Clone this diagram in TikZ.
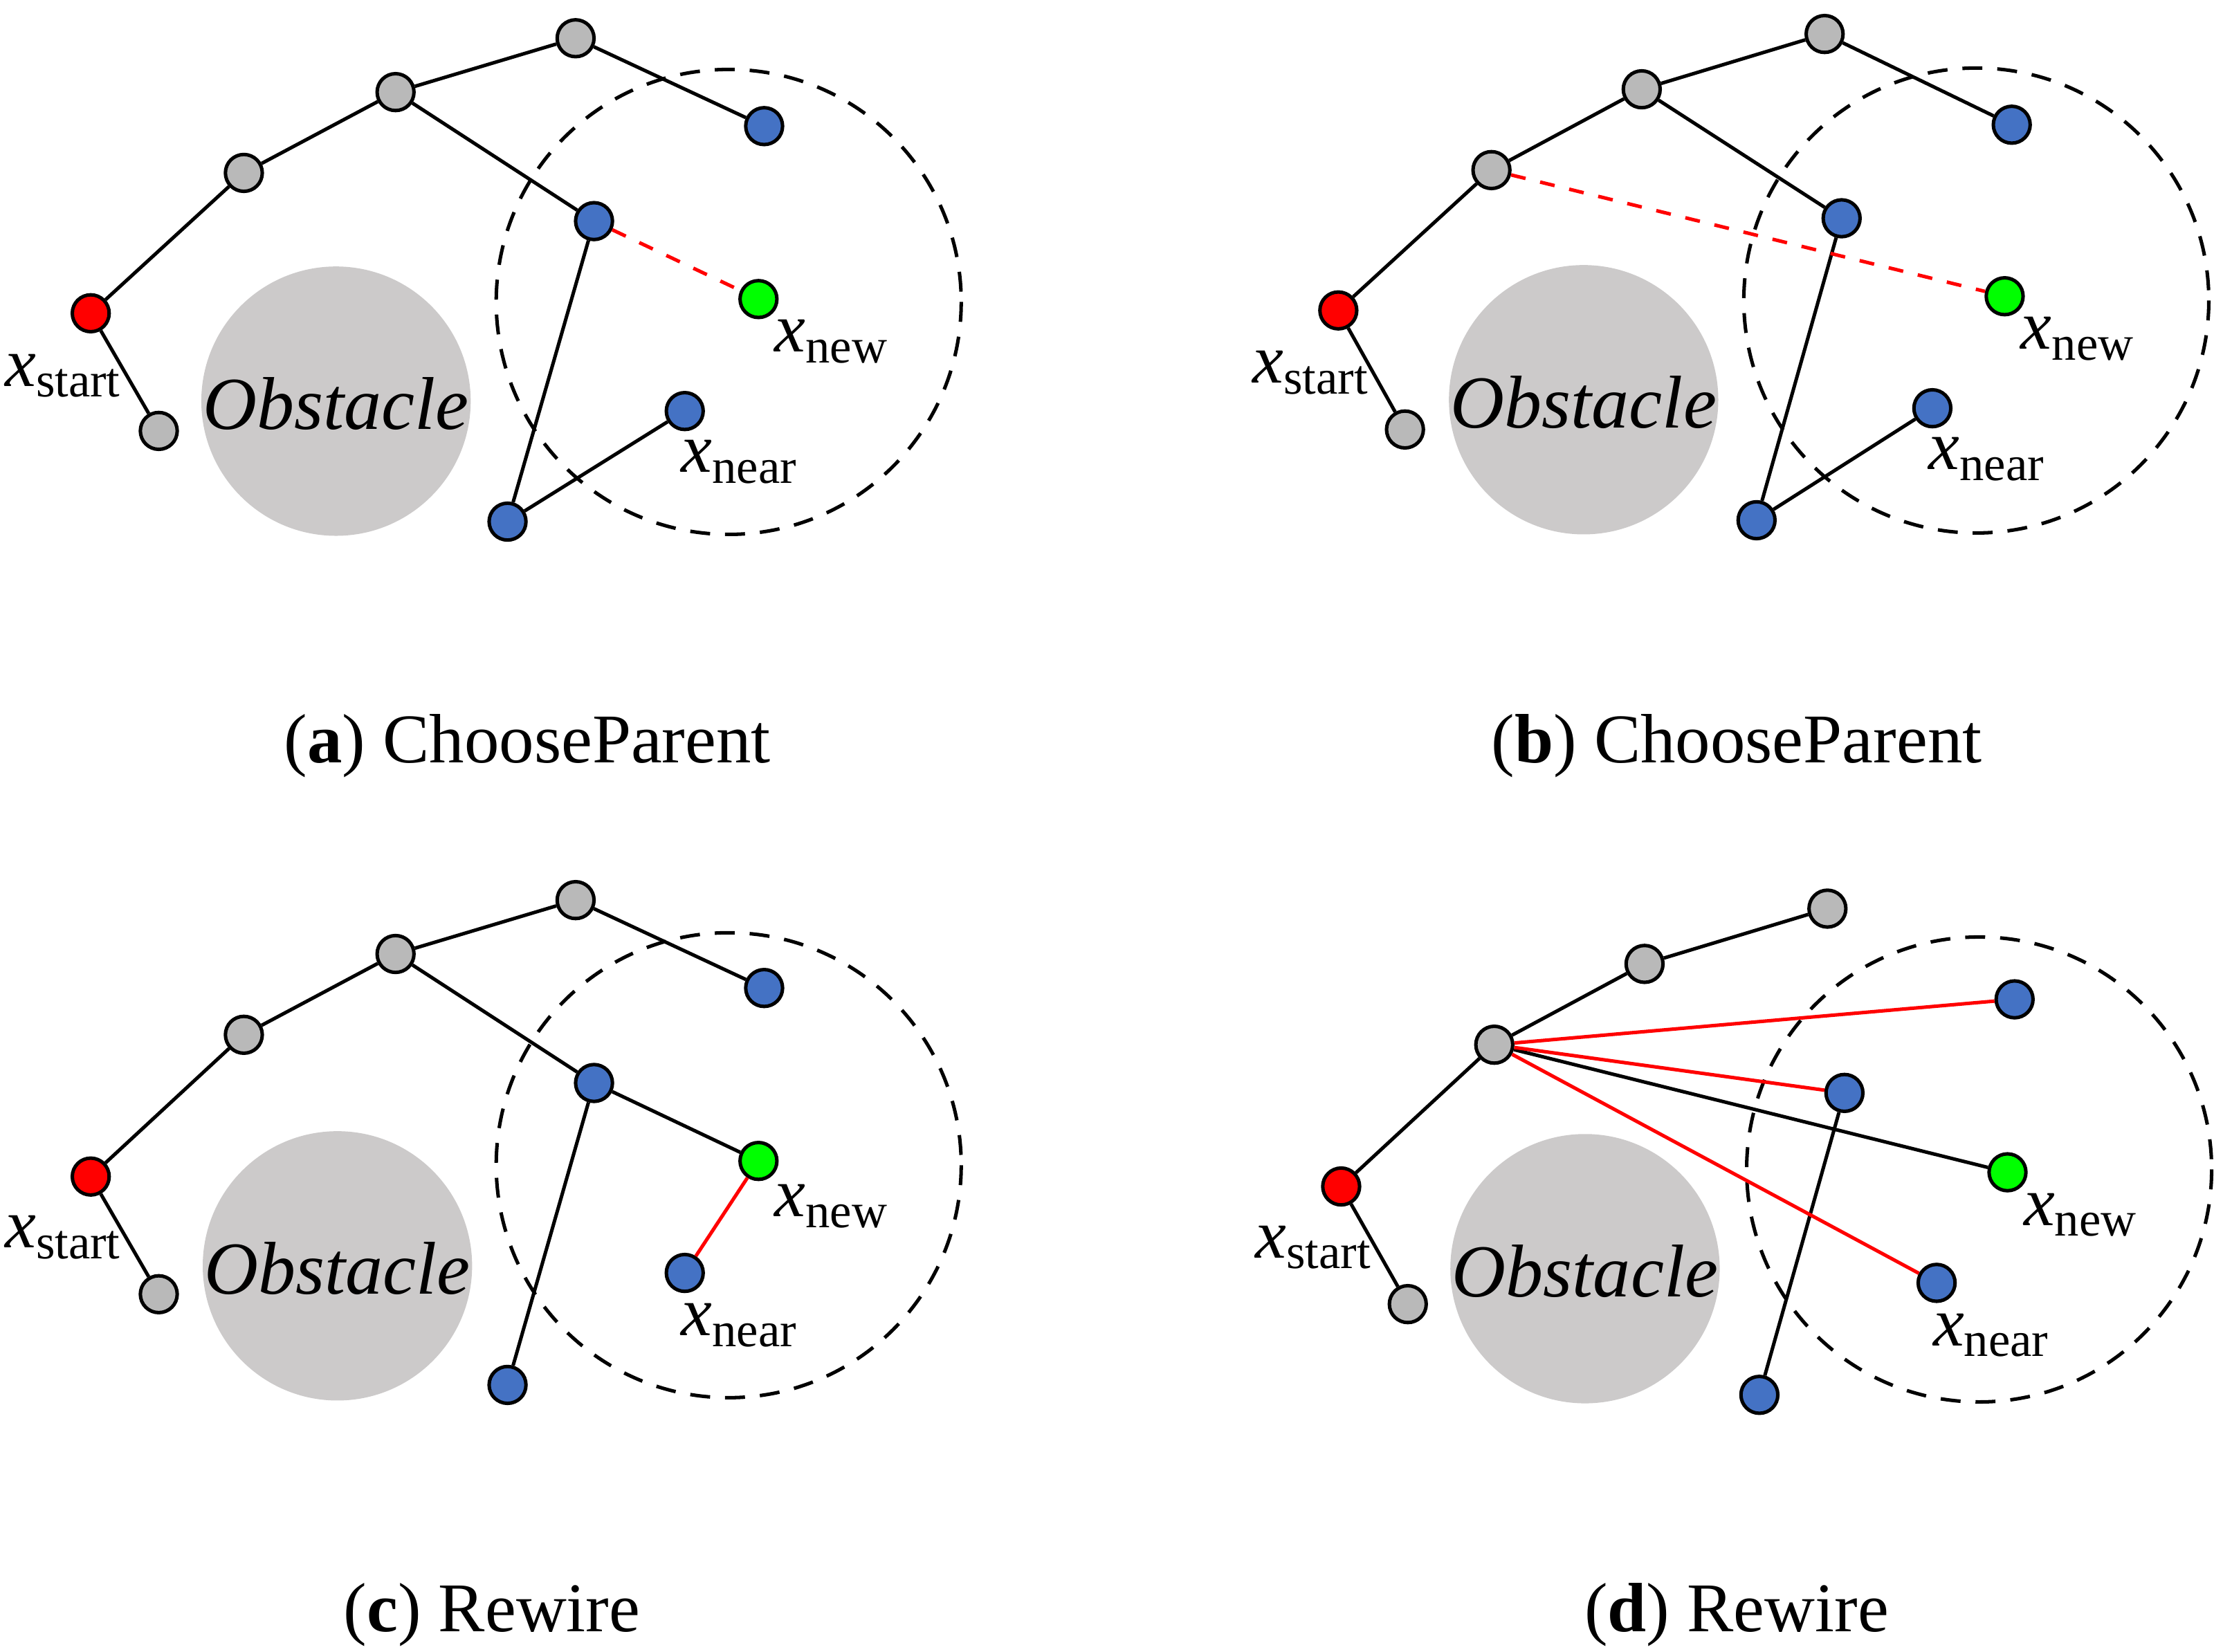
\documentclass[tikz,border=0pt]{standalone}
\usepackage{fontspec}
\setmainfont{Liberation Serif}
\begin{document}
\begin{tikzpicture}[x=0.01cm,y=-0.01cm,
  nd/.style={circle,draw=black,line width=0.7pt,minimum size=0.26cm,inner sep=0pt},
  gr/.style={nd,fill=gray!55},
  bl/.style={nd,fill={rgb,255:red,68;green,114;blue,196}},
  rd/.style={nd,fill=red},
  gn/.style={nd,fill={rgb,255:red,0;green,255;blue,0}},
  ed/.style={line width=0.7pt,black},
  rdash/.style={line width=0.7pt,red,dashed},
  rsol/.style={line width=0.7pt,red},
  rng/.style={line width=0.7pt,dashed,dash pattern=on 4pt off 3pt},
  obs/.style={fill={rgb,255:red,204;green,202;blue,202}},
  lab/.style={font=\fontsize{14}{16}\selectfont},
  captxt/.style={font=\fontsize{14}{16}\selectfont},
  otxt/.style={font=\fontsize{15}{17}\selectfont\itshape}]
\useasboundingbox (0,0) rectangle (1568,1165);
\newcommand{\xs}[1]{\textit{x}\textsubscript{#1}}
% ---------- (a)
\draw[rng] (514,213) circle (164);
\fill[obs] (237,283) circle (95);
\node[otxt] (oa) at (237,285) {Obstacle};
\node[rd] (sa) at (64,221) {}; \node[gr] (ca) at (112,304) {};
\node[gr] (g1a) at (172,122) {}; \node[gr] (g2a) at (279,65) {};
\node[gr] (g3a) at (406,27) {}; \node[bl] (b1a) at (539,89) {};
\node[bl] (b2a) at (419,156) {}; \node[gn] (na) at (535,211) {};
\node[bl] (ra) at (483,290) {}; \node[bl] (b3a) at (358,368) {};
\draw[ed] (sa)--(g1a) (sa)--(ca) (g1a)--(g2a) (g2a)--(g3a) (g3a)--(b1a) (g2a)--(b2a) (b2a)--(b3a) (b3a)--(ra);
\draw[rdash] (b2a)--(na);
\node[lab] (lsa) at (45,265) {\xs{start}};
\node[lab] (lna) at (587,241) {\xs{new}};
\node[lab] (lra) at (522,326) {\xs{near}};
\node[captxt] (capa) at (372,526) {(\textbf{a}) ChooseParent};
% ---------- (b)
\draw[rng] (1394,212) circle (164);
\fill[obs] (1117,282) circle (95);
\node[otxt] (ob) at (1117,284) {Obstacle};
\node[rd] (sb) at (944,219) {}; \node[gr] (cb) at (991,303) {};
\node[gr] (g1b) at (1052,120) {}; \node[gr] (g2b) at (1158,63) {};
\node[gr] (g3b) at (1287,24) {}; \node[bl] (b1b) at (1419,88) {};
\node[bl] (b2b) at (1299,154) {}; \node[gn] (nb) at (1414,209) {};
\node[bl] (rb) at (1363,288) {}; \node[bl] (b3b) at (1239,367) {};
\draw[ed] (sb)--(g1b) (sb)--(cb) (g1b)--(g2b) (g2b)--(g3b) (g3b)--(b1b) (g2b)--(b2b) (b2b)--(b3b) (b3b)--(rb);
\draw[rdash] (g1b)--(nb);
\node[lab] (lsb) at (925,263) {\xs{start}};
\node[lab] (lnb) at (1466,239) {\xs{new}};
\node[lab] (lrb) at (1402,324) {\xs{near}};
\node[captxt] (capb) at (1225,526) {(\textbf{b}) ChooseParent};
% ---------- (c)
\draw[rng] (514,822) circle (164);
\fill[obs] (238,893) circle (95);
\node[otxt] (oc) at (238,895) {Obstacle};
\node[rd] (sc) at (64,830) {}; \node[gr] (cc) at (112,913) {};
\node[gr] (g1c) at (172,730) {}; \node[gr] (g2c) at (279,673) {};
\node[gr] (g3c) at (406,635) {}; \node[bl] (b1c) at (539,697) {};
\node[bl] (b2c) at (419,764) {}; \node[gn] (nc) at (535,819) {};
\node[bl] (rc) at (483,898) {}; \node[bl] (b3c) at (358,977) {};
\draw[ed] (sc)--(g1c) (sc)--(cc) (g1c)--(g2c) (g2c)--(g3c) (g3c)--(b1c) (g2c)--(b2c) (b2c)--(b3c) (b2c)--(nc);
\draw[rsol] (nc)--(rc);
\node[lab] (lsc) at (45,873) {\xs{start}};
\node[lab] (lnc) at (587,851) {\xs{new}};
\node[lab] (lrc) at (522,935) {\xs{near}};
\node[captxt] (capc) at (347,1139) {(\textbf{c}) Rewire};
% ---------- (d)
\draw[rng] (1396,825) circle (164);
\fill[obs] (1118,895) circle (95);
\node[otxt] (od) at (1118,897) {Obstacle};
\node[rd] (sd) at (946,837) {}; \node[gr] (cd) at (993,920) {};
\node[gr] (g1d) at (1054,737) {}; \node[gr] (g2d) at (1160,680) {};
\node[gr] (g3d) at (1289,641) {}; \node[bl] (b1d) at (1421,705) {};
\node[bl] (b2d) at (1301,771) {}; \node[gn] (nd) at (1416,827) {};
\node[bl] (rdd) at (1366,905) {}; \node[bl] (b3d) at (1241,984) {};
\draw[ed] (sd)--(g1d) (sd)--(cd) (g1d)--(g2d) (g2d)--(g3d) (g1d)--(nd) (b2d)--(b3d);
\draw[rsol] (g1d)--(b1d) (g1d)--(b2d) (g1d)--(rdd);
\node[lab] (lsd) at (927,880) {\xs{start}};
\node[lab] (lnd) at (1468,857) {\xs{new}};
\node[lab] (lrd) at (1405,942) {\xs{near}};
\node[captxt] (capd) at (1225,1139) {(\textbf{d}) Rewire};
\end{tikzpicture}
\end{document}
